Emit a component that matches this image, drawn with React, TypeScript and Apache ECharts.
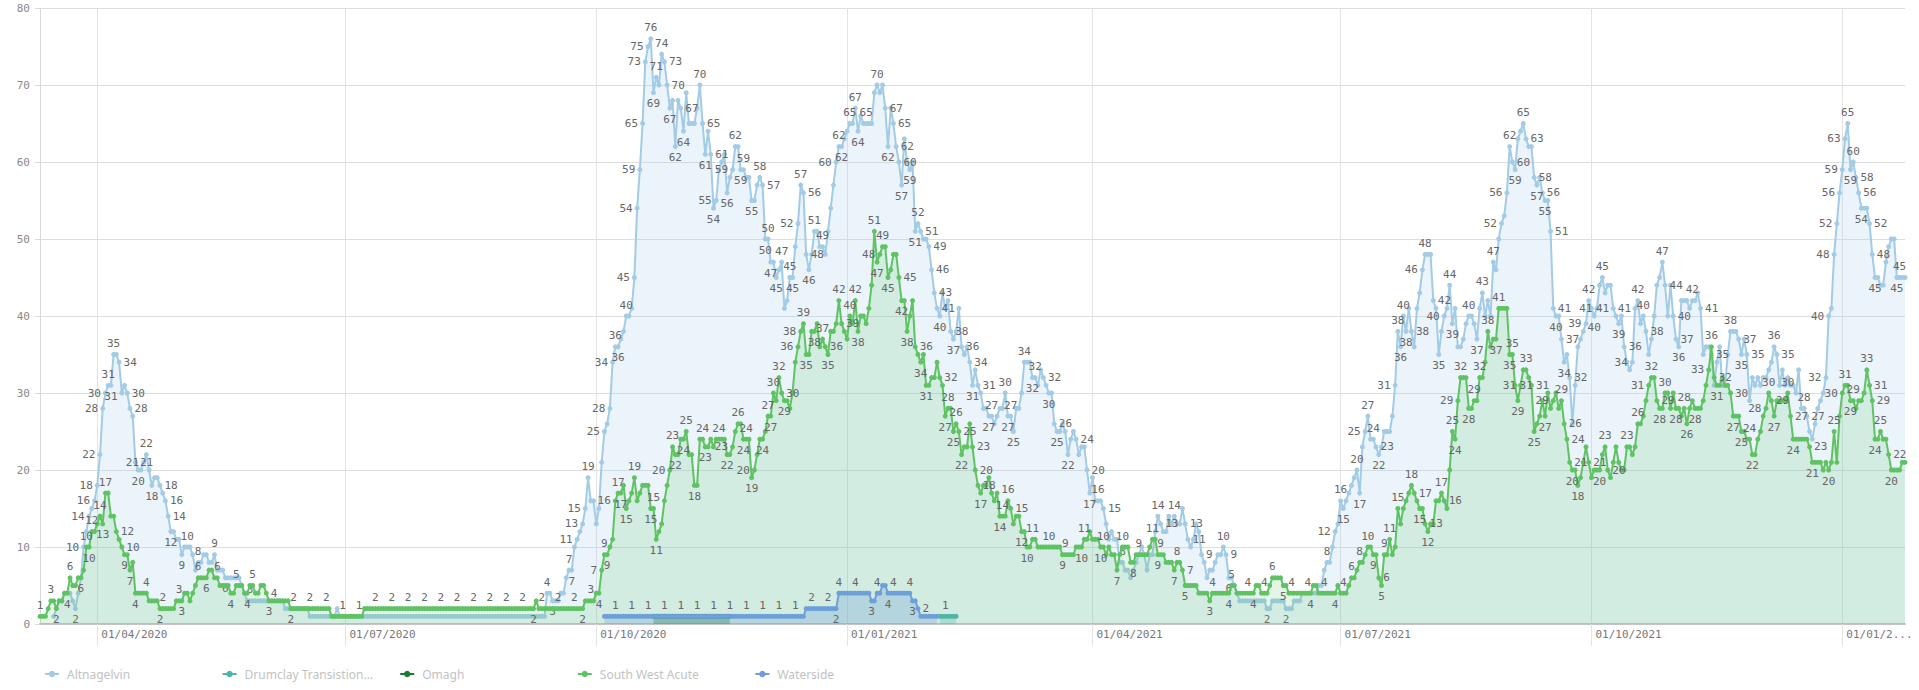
import React, { useEffect, useRef } from "react";
import * as echarts from "echarts";

// ---- categories: one per day from 11/03/2020 ----
const START_Y = 2020;
const START_M = 2; // March (0-based)
const START_D = 11;
const DAY_COUNT = 685;

const SERIES_NAMES = [
  "Altnagelvin",
  "Drumclay Transistion Unit",
  "Omagh",
  "South West Acute",
  "Waterside",
];
const SERIES_COLORS = ["#a3cbe6", "#4db6a6", "#1b7a2f", "#5fc263", "#6d9fd8"];
const AREA_OPACITY = [0.22, 0.3, 0.35, 0.17, 0.3];

const Y_MIN = 0;
const Y_MAX = 80;
const Y_INTERVAL = 10;

// ---- series values (daily), each with the day index it starts at ----
const ALTNAGELVIN_START = 5;
const altnagelvin = [
  1, 2, 3, 3, 4,
  4, 4, 3, 2, 4, 6, 10, 12, 14, 15,
  16, 18, 22, 28, 30, 31, 31, 35, 35, 34,
  30, 31, 30, 28, 27, 21, 20, 20, 21, 22,
  20, 18, 19, 19, 18, 17, 16, 14, 12, 12,
  11, 11, 9, 10, 10, 10, 9, 7, 8, 8,
  9, 9, 8, 8, 9, 7, 7, 7, 6, 6,
  6, 6, 6, 6, 5, 4, 3, 3, 3, 3,
  3, 3, 3, 3, 3, 3, 3, 3, 3, 3,
  2, 2, 2, 2, 2, 2, 2, 2, 2, 1,
  1, 1, 1, 1, 1, 1, 1, 1, 1, 2,
  1, 1, 1, 1, 1, 1, 1, 1, 1, 1,
  1, 1, 1, 1, 1, 1, 1, 1, 1, 1,
  1, 1, 1, 1, 1, 1, 1, 1, 1, 1,
  1, 1, 1, 1, 1, 1, 1, 1, 1, 1,
  1, 1, 1, 1, 1, 1, 1, 1, 1, 1,
  1, 1, 1, 1, 1, 1, 1, 1, 1, 1,
  1, 1, 1, 1, 1, 1, 1, 1, 1, 1,
  1, 1, 1, 1, 1, 1, 4, 4, 3, 3,
  3, 4, 4, 6, 7, 7, 10, 11, 12, 13,
  15, 19, 16, 16, 13, 15, 21, 25, 26, 28,
  34, 36, 36, 37, 38, 40, 40, 41, 45, 54,
  59, 65, 73, 75, 76, 69, 71, 70, 74, 73,
  70, 67, 68, 62, 68, 67, 64, 69, 65, 65,
  65, 67, 70, 65, 61, 64, 61, 54, 55, 59,
  60, 61, 56, 58, 59, 62, 62, 59, 59, 58,
  58, 55, 55, 57, 58, 57, 50, 50, 47, 47,
  45, 46, 47, 41, 42, 45, 45, 49, 52, 57,
  56, 48, 46, 48, 51, 51, 49, 49, 48, 51,
  54, 57, 60, 62, 62, 63, 64, 65, 65, 67,
  64, 66, 65, 65, 65, 65, 69, 70, 69, 70,
  67, 62, 67, 65, 62, 60, 57, 63, 60, 59,
  60, 51, 52, 51, 50, 50, 49, 46, 43, 41,
  40, 43, 41, 42, 38, 37, 38, 41, 36, 35,
  36, 34, 31, 33, 31, 30, 28, 28, 27, 27,
  26, 27, 28, 28, 30, 27, 27, 25, 28, 28,
  30, 34, 34, 34, 32, 32, 31, 33, 32, 31,
  30, 30, 26, 25, 25, 26, 25, 22, 24, 25,
  24, 22, 23, 23, 20, 17, 19, 16, 16, 16,
  15, 13, 11, 12, 11, 11, 8, 8, 7, 7,
  6, 7, 8, 9, 10, 9, 7, 9, 9, 12,
  14, 13, 12, 12, 14, 13, 14, 13, 13, 15,
  13, 11, 10, 11, 13, 12, 9, 8, 6, 7,
  7, 8, 9, 9, 10, 9, 6, 6, 5, 4,
  3, 3, 3, 3, 3, 3, 3, 3, 3, 3,
  2, 2, 3, 3, 3, 3, 3, 2, 2, 2,
  3, 3, 3, 4, 4, 4, 4, 4, 4, 5,
  5, 7, 8, 8, 10, 12, 13, 16, 15, 16,
  17, 18, 19, 20, 17, 23, 25, 27, 24, 24,
  23, 22, 23, 25, 25, 25, 27, 31, 38, 36,
  40, 38, 41, 38, 36, 41, 43, 46, 48, 48,
  48, 42, 41, 35, 38, 40, 41, 44, 39, 41,
  36, 36, 37, 39, 40, 40, 39, 37, 41, 43,
  40, 42, 40, 47, 46, 50, 52, 53, 56, 62,
  60, 59, 63, 64, 65, 63, 62, 62, 58, 57,
  58, 56, 55, 55, 51, 41, 40, 40, 37, 34,
  35, 32, 26, 31, 36, 37, 38, 39, 42, 41,
  40, 41, 44, 45, 43, 44, 44, 41, 40, 39,
  40, 36, 34, 33, 34, 41, 42, 39, 40, 38,
  35, 37, 40, 44, 45, 47, 44, 40, 44, 40,
  37, 36, 42, 42, 42, 41, 42, 42, 43, 41,
  35, 36, 36, 35, 31, 34, 36, 31, 31, 35,
  38, 38, 38, 37, 35, 37, 35, 29, 32, 31,
  32, 31, 32, 32, 33, 34, 36, 35, 31, 33,
  31, 32, 31, 31, 30, 33, 28, 28, 27, 25,
  24, 26, 28, 29, 30, 32, 40, 41, 48, 52,
  56, 59, 63, 65, 59, 60, 58, 56, 54, 54,
  54, 52, 48, 45, 45, 44, 44, 47, 49, 50,
  50, 45, 45, 45, 45,
];

const SOUTH_WEST_ACUTE_START = 0;
const southWestAcute = [
  1, 1, 1, 2, 3, 3, 2, 3, 3, 4,
  4, 6, 5, 5, 6, 6, 7, 10, 10, 12,
  12, 13, 14, 13, 17, 17, 14, 14, 12, 11,
  10, 9, 9, 7, 8, 4, 4, 4, 4, 4,
  3, 3, 3, 3, 2, 2, 2, 2, 2, 2,
  3, 3, 3, 4, 4, 3, 4, 5, 6, 6,
  6, 6, 7, 7, 6, 6, 5, 5, 5, 5,
  4, 4, 5, 5, 5, 4, 4, 5, 5, 4,
  4, 5, 5, 4, 3, 3, 3, 3, 3, 3,
  3, 3, 2, 2, 2, 2, 2, 2, 2, 2,
  2, 2, 2, 2, 2, 2, 2, 1, 1, 1,
  1, 1, 1, 1, 1, 1, 1, 1, 1, 2,
  2, 2, 2, 2, 2, 2, 2, 2, 2, 2,
  2, 2, 2, 2, 2, 2, 2, 2, 2, 2,
  2, 2, 2, 2, 2, 2, 2, 2, 2, 2,
  2, 2, 2, 2, 2, 2, 2, 2, 2, 2,
  2, 2, 2, 2, 2, 2, 2, 2, 2, 2,
  2, 2, 2, 2, 2, 2, 2, 2, 2, 2,
  2, 2, 3, 2, 2, 2, 2, 2, 2, 2,
  2, 2, 2, 2, 2, 2, 2, 2, 2, 2,
  3, 3, 3, 3, 4, 4, 7, 9, 9, 10,
  11, 16, 17, 17, 18, 15, 16, 17, 19, 16,
  17, 18, 18, 18, 15, 15, 11, 12, 13, 16,
  18, 20, 23, 22, 22, 24, 24, 25, 22, 22,
  18, 18, 24, 24, 23, 23, 24, 23, 24, 24,
  24, 24, 22, 22, 23, 25, 26, 26, 24, 24,
  24, 19, 20, 22, 24, 24, 25, 27, 27, 30,
  29, 32, 30, 29, 29, 28, 30, 34, 36, 38,
  39, 35, 35, 38, 38, 39, 36, 37, 36, 35,
  38, 38, 39, 42, 39, 38, 37, 40, 39, 42,
  38, 40, 40, 39, 41, 44, 51, 47, 48, 49,
  49, 45, 46, 48, 48, 45, 42, 42, 38, 40,
  42, 36, 35, 34, 35, 31, 31, 32, 32, 34,
  32, 31, 27, 28, 28, 25, 26, 25, 22, 23,
  23, 26, 23, 20, 18, 17, 18, 18, 19, 17,
  16, 17, 14, 14, 14, 16, 15, 13, 14, 14,
  12, 12, 10, 10, 11, 11, 10, 10, 10, 10,
  10, 10, 10, 10, 10, 9, 9, 9, 9, 9,
  10, 10, 10, 11, 11, 12, 11, 11, 11, 10,
  10, 9, 10, 9, 9, 7, 9, 10, 10, 10,
  8, 8, 9, 9, 9, 9, 9, 10, 11, 11,
  9, 9, 9, 8, 8, 8, 7, 8, 8, 7,
  5, 5, 5, 5, 5, 4, 4, 4, 4, 3,
  4, 4, 4, 4, 4, 4, 4, 5, 5, 4,
  4, 4, 4, 4, 4, 4, 5, 5, 4, 4,
  4, 5, 6, 6, 6, 6, 5, 5, 4, 4,
  4, 4, 4, 4, 4, 4, 4, 5, 5, 4,
  4, 4, 4, 4, 4, 4, 5, 4, 4, 4,
  5, 6, 6, 7, 8, 8, 9, 10, 10, 9,
  9, 6, 5, 9, 9, 11, 9, 10, 15, 13,
  15, 16, 17, 18, 17, 16, 15, 15, 13, 12,
  13, 13, 16, 16, 17, 16, 15, 20, 25, 24,
  29, 32, 32, 32, 28, 28, 29, 29, 32, 32,
  34, 38, 36, 37, 37, 41, 41, 41, 41, 35,
  35, 31, 29, 31, 33, 33, 32, 31, 25, 26,
  27, 29, 27, 30, 28, 29, 30, 28, 29, 26,
  24, 21, 20, 20, 18, 19, 21, 23, 21, 19,
  20, 20, 20, 22, 23, 20, 19, 21, 23, 21,
  20, 20, 23, 23, 22, 23, 26, 26, 27, 29,
  31, 32, 32, 29, 28, 28, 30, 30, 28, 30,
  28, 28, 27, 28, 26, 28, 29, 28, 28, 28,
  29, 31, 33, 36, 32, 31, 31, 32, 31, 31,
  30, 27, 27, 27, 25, 25, 24, 24, 22, 22,
  24, 25, 27, 28, 30, 29, 27, 29, 29, 29,
  29, 30, 27, 24, 24, 24, 24, 24, 24, 23,
  21, 21, 21, 21, 20, 21, 20, 21, 25, 21,
  27, 30, 31, 31, 29, 29, 28, 29, 29, 30,
  33, 31, 29, 24, 24, 25, 24, 24, 22, 20,
  20, 20, 20, 21, 21,
];

const WATERSIDE_START = 207;
const waterside = [
  1, 1, 1, 1, 1, 1, 1, 1, 1, 1,
  1, 1, 1, 1, 1, 1, 1, 1, 1, 1,
  1, 1, 1, 1, 1, 1, 1, 1, 1, 1,
  1, 1, 1, 1, 1, 1, 1, 1, 1, 1,
  1, 1, 1, 1, 1, 1, 1, 1, 1, 1,
  1, 1, 1, 1, 1, 1, 1, 1, 1, 1,
  1, 1, 1, 1, 1, 1, 1, 1, 1, 1,
  1, 1, 1, 1,
  2, 2, 2, 2, 2, 2, 2, 2, 2, 2, 2, 2,
  4, 4, 4, 4, 4, 4, 4, 4, 4, 4, 4, 4,
  3, 3, 4, 4, 5, 5,
  4, 4, 4, 4, 4, 4, 4, 4, 4,
  3, 3, 2,
  1, 1, 1, 1, 1, 1, 1,
];

const OMAGH_START = 225;
const omagh = [
  1, 1, 1, 1, 1, 1, 1, 1, 1, 1,
  1, 1, 1, 1, 1, 1, 1, 1, 1, 1,
  1, 1, 1, 1, 1, 1, 1, 1, 1,
];

const DRUMCLAY_START = 330;
const drumclay = [1, 1, 1, 1, 1, 1, 1];

// ---- helpers ----
const pad2 = (n: number) => (n < 10 ? "0" + n : "" + n);

function buildCategories(): string[] {
  const out: string[] = [];
  for (let i = 0; i < DAY_COUNT; i++) {
    const d = new Date(Date.UTC(START_Y, START_M, START_D + i));
    out.push(pad2(d.getUTCDate()) + "/" + pad2(d.getUTCMonth() + 1) + "/" + d.getUTCFullYear());
  }
  return out;
}

function place(start: number, vals: number[]): (number | null)[] {
  const arr: (number | null)[] = new Array(DAY_COUNT).fill(null);
  vals.forEach((v, i) => {
    if (start + i < DAY_COUNT) arr[start + i] = v;
  });
  return arr;
}

function withLabelPositions(vals: (number | null)[]) {
  return vals.map((v, i) => {
    if (v == null) return null;
    const p = i > 0 ? vals[i - 1] : null;
    const n = i < vals.length - 1 ? vals[i + 1] : null;
    let pos = "top";
    if (p != null && n != null) {
      if ((v > p && v >= n) || (v >= p && v > n)) pos = "top";
      else if ((v < p && v <= n) || (v <= p && v < n)) pos = "bottom";
      else if (p < v && v < n) pos = "left";
      else if (p > v && v > n) pos = "right";
    } else if (p != null) {
      pos = v < p ? "bottom" : "top";
    } else if (n != null) {
      pos = v < n ? "left" : "top";
    }
    // keep labels of very low points inside the plot
    if (pos === "bottom" && v < 2) pos = "top";
    return { value: v, label: { position: pos } };
  });
}

const isQuarterStart = (s: string) =>
  s.slice(0, 2) === "01" && ["01", "04", "07", "10"].indexOf(s.slice(3, 5)) >= 0;

export default function App() {
  const ref = useRef<HTMLDivElement>(null);

  useEffect(() => {
    if (!ref.current) return;
    const chart = echarts.init(ref.current, undefined, { renderer: "svg" });
    const categories = buildCategories();
    const lastLabel = categories.filter(isQuarterStart).slice(-1)[0];

    const seriesData: (number | null)[][] = [
      place(ALTNAGELVIN_START, altnagelvin),
      place(DRUMCLAY_START, drumclay),
      place(OMAGH_START, omagh),
      place(SOUTH_WEST_ACUTE_START, southWestAcute),
      place(WATERSIDE_START, waterside),
    ];

    // label priority order (first wins when labels overlap)
    const order = [3, 0, 4, 2, 1];
    const zOf = [2, 3, 3, 2.5, 4];

    const mono = "DejaVu Sans Mono";

    const series = order.map((k) => ({
      name: SERIES_NAMES[k],
      type: "line",
      data: withLabelPositions(seriesData[k]),
      symbol: "circle",
      symbolSize: 5,
      showAllSymbol: true,
      connectNulls: false,
      z: zOf[k],
      lineStyle: { width: 2, color: SERIES_COLORS[k] },
      itemStyle: { color: SERIES_COLORS[k] },
      areaStyle: { color: SERIES_COLORS[k], opacity: AREA_OPACITY[k] },
      label: {
        show: true,
        fontFamily: mono,
        fontSize: 11,
        color: "#666",
        distance: 2,
        width: 14,
        lineHeight: 13,
      },
      labelLayout: { hideOverlap: true },
      emphasis: { disabled: true },
    }));

    const legends = SERIES_NAMES.map((name, i) => ({
      data: [name],
      left: 39 + i * 177.6,
      top: 663,
      itemWidth: 14,
      itemHeight: 8,
      selectedMode: false,
      formatter: (n: string) => (n.length > 20 ? n.slice(0, 20) + "..." : n),
      textStyle: { fontFamily: "Noto Sans", fontSize: 12, color: "#c2c2c2", padding: [0, 0, 0, 3] },
    }));

    chart.setOption({
      animation: false,
      backgroundColor: "#ffffff",
      grid: { left: 40, right: 14, top: 8, bottom: 66, containLabel: false },
      legend: legends,
      xAxis: {
        type: "category",
        data: categories,
        boundaryGap: false,
        axisLine: { show: true, lineStyle: { color: "#c4c4c4", width: 2 } },
        axisTick: {
          show: true,
          length: 22,
          interval: (_i: number, v: string) => isQuarterStart(v),
          lineStyle: { color: "#e3e3e3" },
        },
        axisLabel: {
          interval: (_i: number, v: string) => isQuarterStart(v),
          align: "left",
          margin: 5,
          padding: [0, 0, 0, 4],
          fontFamily: mono,
          fontSize: 11,
          color: "#777",
          formatter: (v: string) => (v === lastLabel ? v.slice(0, 7) + "..." : v),
        },
        splitLine: {
          show: true,
          interval: (_i: number, v: string) => isQuarterStart(v),
          lineStyle: { color: "#e3e3e3" },
        },
      },
      yAxis: {
        type: "value",
        min: Y_MIN,
        max: Y_MAX,
        interval: Y_INTERVAL,
        axisLine: { show: true, lineStyle: { color: "#d9d9d9" } },
        axisTick: { show: true, length: 5, lineStyle: { color: "#d9d9d9" } },
        axisLabel: { fontFamily: mono, fontSize: 11, color: "#888", margin: 10 },
        splitLine: { show: true, lineStyle: { color: "#dedede" } },
      },
      series,
    });

    return () => chart.dispose();
  }, []);

  return (
    <div
      ref={ref}
      style={{ position: "absolute", left: 0, top: 0, width: 1919, height: 690, background: "#fff" }}
    />
  );
}
